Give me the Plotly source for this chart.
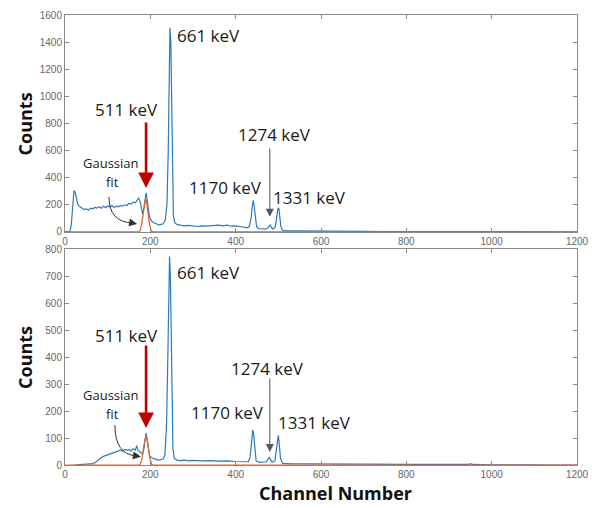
import plotly.graph_objects as go
from plotly.subplots import make_subplots

# ---------------- data ----------------
top_ch = [0, 8, 12, 15, 18, 21, 24, 27, 30, 35, 40, 45, 50, 55, 60, 65, 70, 75, 80, 85, 90, 95,
          100, 105, 110, 115, 120, 125, 130, 135, 140, 145, 150, 155, 160, 165, 170, 173, 176,
          179, 182, 185, 188, 190, 192, 195, 198, 201, 205, 210, 215, 220, 225, 230, 235, 239,
          242, 244, 246, 248, 250, 252, 254, 257, 262, 270, 280, 290, 300, 310, 320, 330, 340,
          350, 360, 370, 380, 390, 400, 410, 420, 428, 432, 436, 439, 441, 443, 446, 449, 453,
          460, 468, 474, 478, 481, 484, 488, 493, 496, 499, 501, 503, 506, 510, 520, 540, 560,
          600, 650, 700, 750, 800, 850, 900, 950, 1000, 1050, 1100, 1150, 1200]
top_counts = [0, 0, 5, 60, 200, 305, 290, 230, 200, 185, 175, 165, 170, 160, 175, 170, 180, 175,
              185, 175, 190, 180, 190, 185, 195, 180, 190, 185, 195, 190, 200, 195, 210, 205,
              220, 215, 240, 250, 225, 160, 130, 180, 260, 288, 250, 170, 110, 90, 75, 65, 55,
              50, 55, 60, 90, 200, 600, 1100, 1505, 1400, 900, 350, 120, 70, 55, 50, 45, 48, 45,
              40, 45, 42, 45, 48, 50, 45, 50, 42, 45, 40, 35, 30, 40, 100, 190, 232, 200, 110,
              40, 25, 22, 20, 25, 45, 50, 30, 20, 40, 120, 170, 178, 130, 40, 12, 8, 7, 6, 5, 4,
              4, 3, 3, 2, 2, 3, 2, 1, 1, 1, 1]
top_fit_ch = [0, 172, 176, 180, 184, 187, 189, 191, 194, 198, 202, 206, 1200]
top_fit_counts = [0, 0, 10, 60, 150, 225, 245, 225, 150, 60, 10, 0, 0]

bot_ch = [20, 30, 40, 50, 60, 65, 70, 75, 80, 85, 90, 95, 100, 105, 110, 115, 120, 125, 130, 135,
          140, 145, 150, 155, 160, 165, 168, 171, 175, 178, 182, 185, 188, 190, 192, 195, 198,
          202, 206, 210, 215, 220, 225, 230, 234, 238, 241, 243, 245, 247, 249, 251, 253, 256,
          262, 270, 280, 290, 300, 320, 340, 360, 380, 400, 420, 430, 434, 437, 440, 442, 445,
          448, 455, 465, 472, 476, 479, 482, 486, 492, 495, 498, 500, 502, 505, 510, 530, 560,
          600, 650, 700, 800, 900, 945, 950, 955, 1000, 1200]
bot_counts = [0, 1, 2, 2, 3, 5, 8, 15, 22, 28, 32, 35, 38, 42, 45, 48, 50, 52, 55, 52, 58, 55,
              57, 52, 60, 55, 72, 55, 50, 45, 40, 60, 105, 118, 100, 60, 35, 28, 25, 22, 20, 18,
              20, 22, 35, 150, 400, 650, 772, 700, 450, 180, 60, 25, 18, 16, 18, 15, 17, 15, 16,
              14, 15, 13, 12, 12, 30, 90, 130, 115, 50, 15, 10, 10, 12, 22, 28, 20, 10, 15, 60,
              100, 110, 80, 25, 6, 4, 4, 3, 3, 3, 2, 2, 2, 5, 2, 1, 0]
bot_fit_ch = [0, 173, 177, 181, 185, 188, 190, 192, 195, 199, 203, 206, 1200]
bot_fit_counts = [0, 0, 5, 30, 75, 105, 110, 100, 70, 25, 3, 0, 0]

x_ticks = [0, 200, 400, 600, 800, 1000, 1200]
top_y_ticks = [0, 200, 400, 600, 800, 1000, 1200, 1400, 1600]
bot_y_ticks = [0, 100, 200, 300, 400, 500, 600, 700, 800]

peak_labels = ["511 keV", "661 keV", "1170 keV", "1274 keV", "1331 keV"]

# ---------------- figure ----------------
BLUE = "#2b7bbd"
ORANGE = "#e0622a"
AX = "#8a8a8a"
TXT = "#1a1a1a"
FONT = "Open Sans"

fig = make_subplots(rows=2, cols=1, vertical_spacing=0.0)
fig.add_trace(go.Scatter(x=top_ch, y=top_counts, mode="lines",
                         line=dict(color=BLUE, width=1.2)), row=1, col=1)
fig.add_trace(go.Scatter(x=top_fit_ch, y=top_fit_counts, mode="lines",
                         line=dict(color=ORANGE, width=1.2)), row=1, col=1)
fig.add_trace(go.Scatter(x=bot_ch, y=bot_counts, mode="lines",
                         line=dict(color=BLUE, width=1.2)), row=2, col=1)
fig.add_trace(go.Scatter(x=bot_fit_ch, y=bot_fit_counts, mode="lines",
                         line=dict(color=ORANGE, width=1.2)), row=2, col=1)

axis_common = dict(showgrid=False, zeroline=False, showline=True, linecolor=AX, linewidth=1,
                   mirror="ticks", ticks="inside", ticklen=4, tickcolor=AX, automargin=False,
                   tickfont=dict(family="Liberation Sans", size=10, color="#666666"))

fig.update_xaxes(range=[0, 1200], tickvals=x_ticks, **axis_common)
fig.update_yaxes(**axis_common)
fig.update_layout(
    xaxis=dict(domain=[0, 1], anchor="y"),
    xaxis2=dict(domain=[0, 1], anchor="y2"),
    yaxis=dict(domain=[0.518, 1.0], range=[0, 1600], tickvals=top_y_ticks),
    yaxis2=dict(domain=[0.0, 0.48], range=[0, 800], tickvals=bot_y_ticks),
)

ann = []

def label(text, x, y, xref, yref, size=17, xanchor="center"):
    ann.append(dict(text=text, x=x, y=y, xref=xref, yref=yref, showarrow=False,
                    xanchor=xanchor, yanchor="middle",
                    font=dict(family=FONT, size=size, color=TXT)))

def arrow(x, y, ax, ay, xref, yref, color, width, size):
    ann.append(dict(text="", x=x, y=y, ax=ax, ay=ay, xref=xref, yref=yref,
                    axref=xref, ayref=yref, showarrow=True, arrowhead=2,
                    arrowsize=size, arrowwidth=width, arrowcolor=color))

# top panel
label(peak_labels[1], 258, 1452, "x", "y", xanchor="left")
label(peak_labels[0], 144, 900, "x", "y")
label(peak_labels[3], 491, 715, "x", "y")
label(peak_labels[2], 375, 324, "x", "y")
label(peak_labels[4], 573, 251, "x", "y")
label("Gaussian", 108, 509, "x", "y", size=13)
label("fit", 112, 369, "x", "y", size=13)
arrow(190, 324, 190, 818, "x", "y", "#c00000", 2.6, 1.2)
arrow(480, 111, 480, 627, "x", "y", "#555555", 1, 1.6)
arrow(169, 59, 158, 66, "x", "y", "#333333", 1, 1.6)

# bottom panel
label(peak_labels[1], 258, 713, "x2", "y2", xanchor="left")
label(peak_labels[0], 144, 481, "x2", "y2")
label(peak_labels[3], 475, 356, "x2", "y2")
label(peak_labels[2], 382, 193, "x2", "y2")
label(peak_labels[4], 585, 156, "x2", "y2")
label("Gaussian", 108, 259, "x2", "y2", size=13)
label("fit", 112, 189, "x2", "y2", size=13)
arrow(190, 137, 190, 448, "x2", "y2", "#c00000", 2.6, 1.2)
arrow(480, 48, 480, 326, "x2", "y2", "#555555", 1, 1.6)
arrow(178, 31, 166, 34, "x2", "y2", "#333333", 1, 1.6)

# axis titles
ann.append(dict(text="<b>Counts</b>", x=-0.078, y=0.757, xref="paper", yref="paper",
                showarrow=False, textangle=-90, xanchor="center", yanchor="middle",
                font=dict(family=FONT, size=18, color="#111111")))
ann.append(dict(text="<b>Counts</b>", x=-0.078, y=0.238, xref="paper", yref="paper",
                showarrow=False, textangle=-90, xanchor="center", yanchor="middle",
                font=dict(family=FONT, size=18, color="#111111")))
ann.append(dict(text="<b>Channel Number</b>", x=0.529, y=-0.062, xref="paper", yref="paper",
                showarrow=False, xanchor="center", yanchor="middle",
                font=dict(family=FONT, size=18, color="#111111")))

shapes = [
    dict(type="path", xref="x", yref="y", path="M 103,258 Q 103,70 160,66",
         line=dict(color="#333333", width=1)),
    dict(type="path", xref="x2", yref="y2", path="M 117,148 Q 117,40 166,34",
         line=dict(color="#333333", width=1)),
]

fig.update_layout(
    width=592, height=508,
    margin=dict(l=65, r=15, t=15, b=43, autoexpand=False),
    paper_bgcolor="white", plot_bgcolor="white",
    showlegend=False,
    annotations=ann, shapes=shapes,
)

fig.write_html("out.html")
